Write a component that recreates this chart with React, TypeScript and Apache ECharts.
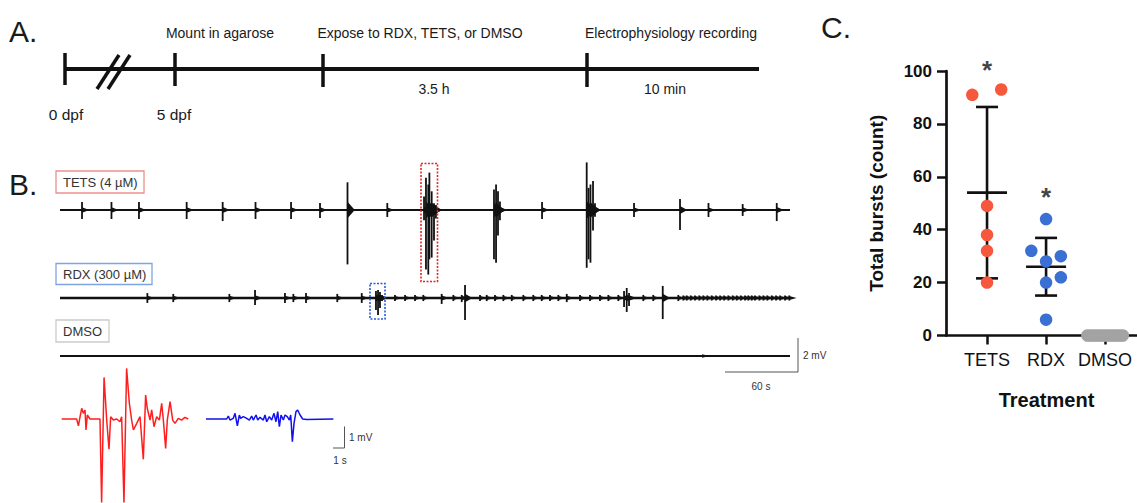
import { useEffect, useRef } from "react";
import * as echarts from "echarts";

const FONT = '"Liberation Sans", Arial, Helvetica, sans-serif';

// ---------- Panel C data ----------
const categories = ["TETS", "RDX", "DMSO"];
const tetsBursts = [91, 93, 49, 38, 32, 20];
const tetsJitter = [-0.25, 0.24, 0, 0, 0, 0];
const rdxBursts = [44, 32, 28, 30, 20, 22, 6];
const rdxJitter = [0, -0.25, 0, 0.25, 0, 0.25, 0];
const dmsoBursts = [0, 0, 0, 0, 0, 0, 0, 0, 0, 0, 0, 0, 0];
const dmsoJitter = [-0.3, -0.25, -0.2, -0.15, -0.1, -0.05, 0, 0.05, 0.1, 0.15, 0.2, 0.25, 0.3];
const groupMeans = [54, 26, 0];
const groupSD = [32.4, 10.9, 0];
const significance = ["*", "*", ""];
const significanceY = [100.5, 52.5, 0];

// ---------- Panel A text ----------
const timelineEvents = ["Mount in agarose", "Expose to RDX, TETS, or DMSO", "Electrophysiology recording"];
const timelineDurations = ["3.5 h", "10 min"];
const timelineDays = ["0 dpf", "5 dpf"];

// ---------- Panel B traces: [time (s), up (mV), down (mV)] ----------
const tetsSpikes = [
  [18.1, 0.47, 0.53], [42.3, 0.47, 0.53], [64.9, 0.47, 0.53], [104.1, 0.47, 0.53],
  [133.7, 0.47, 0.65], [160.7, 0.47, 0.53], [189.9, 0.47, 0.53], [213.7, 0.41, 0.47],
  [236.3, 1.63, 3.2], [269.0, 0.41, 0.41],
  [299.2, 0.8, 0.6], [300.8, 1.9, 3.5], [302.7, 1.5, 3.8], [303.6, 2.2, 2.9],
  [305.5, 1.1, 2.8], [307.4, 0.4, 1.8], [309.0, 0.3, 0.5],
  [356.7, 1.2, 2.9], [358.4, 1.5, 3.1], [360.0, 1.1, 1.5], [361.6, 0.5, 0.6],
  [396.2, 0.47, 0.53],
  [432.9, 2.8, 3.4], [434.4, 1.3, 2.9], [436.0, 1.5, 3.1], [438.1, 1.7, 1.2], [439.7, 0.4, 0.4],
  [471.8, 0.41, 0.41], [509.6, 0.65, 1.18], [533.0, 0.41, 0.41], [561.1, 0.35, 0.35],
  [589.1, 0.41, 0.65],
];
const rdxSpikes = [
  [71.8, 0.29, 0.29], [93.1, 0.24, 0.24], [139.2, 0.24, 0.24], [160.3, 0.47, 0.41],
  [184.9, 0.29, 0.29], [191.8, 0.24, 0.24], [202.2, 0.29, 0.29], [227.9, 0.24, 0.24],
  [248.0, 0.29, 0.29],
  [259.7, 0.41, 0.71], [261.4, 0.47, 1.0], [263.0, 0.35, 0.59], [264.7, 0.18, 0.18],
  [275.3, 0.18, 0.18], [283.6, 0.18, 0.18], [291.8, 0.18, 0.18], [298.6, 0.18, 0.18],
  [313.7, 0.24, 0.35], [323.3, 0.18, 0.18], [330.2, 0.18, 0.24], [332.9, 0.76, 1.29],
  [345.2, 0.18, 0.18], [350.7, 0.18, 0.18], [357.5, 0.18, 0.18], [364.4, 0.18, 0.18],
  [371.3, 0.18, 0.18], [380.8, 0.18, 0.18], [389.0, 0.18, 0.18], [395.9, 0.18, 0.18],
  [402.7, 0.18, 0.18], [409.6, 0.18, 0.18], [416.5, 0.24, 0.24], [427.4, 0.18, 0.18],
  [435.6, 0.18, 0.18], [443.8, 0.18, 0.18], [450.7, 0.18, 0.18], [458.9, 0.18, 0.18],
  [463.6, 0.41, 0.53], [465.8, 0.59, 0.82], [467.7, 0.29, 0.47],
  [479.4, 0.18, 0.18], [487.6, 0.18, 0.18], [495.4, 0.71, 1.24], [508.2, 0.18, 0.18],
  [512.3, 0.15, 0.15], [515.1, 0.15, 0.15], [518.4, 0.15, 0.15], [521.9, 0.15, 0.15],
  [525.4, 0.15, 0.15], [528.7, 0.15, 0.15], [532.0, 0.15, 0.15], [535.6, 0.15, 0.15],
  [539.2, 0.15, 0.15], [542.5, 0.15, 0.15], [545.8, 0.15, 0.15], [549.3, 0.15, 0.15],
  [552.9, 0.15, 0.15], [556.2, 0.15, 0.15], [559.5, 0.15, 0.15], [563.0, 0.15, 0.15],
  [565.7, 0.15, 0.15], [568.5, 0.15, 0.15], [571.2, 0.15, 0.15], [574.8, 0.15, 0.15],
  [578.1, 0.15, 0.15], [581.3, 0.15, 0.15], [585.0, 0.15, 0.15], [588.5, 0.15, 0.15],
  [591.8, 0.15, 0.15], [595.9, 0.15, 0.15], [599.4, 0.15, 0.15],
];
const dmsoSpikes = [[527.7, 0.06, 0.06]];
const recordingSeconds = 600;

// ---------- Panel B insets: time (s), voltage (mV) ----------
const redTime = [0, 1.36, 1.52, 1.67, 1.82, 1.97, 2.12, 2.21, 2.33, 2.57, 3.48, 3.63, 3.85, 4.09, 4.3, 4.45, 4.7, 5.0, 5.3, 5.45, 5.66, 5.9, 6.15, 6.36, 6.52, 6.82, 7.12, 7.42, 7.63, 7.78, 8.03, 8.18, 8.39, 8.63, 8.88, 9.09, 9.24, 9.45, 9.6, 9.85, 10.09, 10.3, 10.6, 10.9, 11.2, 11.5];
const redMv = [0, 0, -0.33, 0.11, 0.51, 0.27, 0.43, -0.52, 0.19, 0, 0, -3.98, 1.98, -0.05, -1.44, 0.11, -0.05, 0, -0.13, 0.11, -3.98, 2.41, 0.75, -0.05, -0.52, -0.21, 0.11, -1.92, 1.14, 0.51, -0.05, 0.43, -0.37, 0.11, -0.05, 0.75, -0.05, -1.4, -0.05, 0.83, -0.05, -0.21, 0.03, -0.05, 0.08, 0];
const blueTime = [0, 1.88, 2.03, 2.18, 2.48, 2.64, 2.85, 3.03, 3.15, 3.39, 3.7, 3.94, 4.15, 4.3, 4.55, 4.7, 4.91, 5.21, 5.36, 5.52, 5.76, 5.97, 6.18, 6.36, 6.52, 6.67, 6.82, 7.03, 7.18, 7.39, 7.58, 7.7, 7.85, 8.0, 8.18, 8.33, 8.55, 8.79, 9.15, 11.58];
const blueMv = [0, 0, 0.14, -0.05, 0.03, 0.27, -0.33, 0.19, 0.03, 0.11, 0.03, -0.05, 0.14, -0.05, 0.19, -0.05, 0.08, -0.05, 0.19, -0.13, 0.11, -0.05, 0.27, -0.13, 0.35, -0.37, 0.19, -0.05, 0.19, 0.11, -0.05, 0.19, -1.08, -0.21, 0.35, 0.43, 0.19, 0, -0.02, 0];

const INK = "#111111";

function spikeRender(color: string) {
  return (params: any, api: any) => {
    const t = api.value(0);
    const up = api.value(1);
    const dn = api.value(2);
    const top = api.coord([t, up]);
    const bot = api.coord([t, -dn]);
    const w = 0.1 + 0.12 * Math.max(up, dn);
    const p1 = api.coord([t, w]);
    const p2 = api.coord([t + 6, 0]);
    const p3 = api.coord([t, -w]);
    return {
      type: "group",
      children: [
        { type: "line", shape: { x1: top[0], y1: top[1], x2: bot[0], y2: bot[1] }, style: { stroke: color, lineWidth: 1.8 } },
        { type: "polygon", shape: { points: [p1, p2, p3] }, style: { fill: color } },
      ],
    };
  };
}

function errorBarRender(params: any, api: any) {
  const x = api.value(0);
  const m = api.value(1);
  const sd = api.value(2);
  if (!sd) return null;
  const c = api.coord([x, m]);
  const hi = api.coord([x, m + sd]);
  const lo = api.coord([x, m - sd]);
  const halfMean = 20;
  const halfCap = 11;
  const st = { stroke: INK, lineWidth: 2.6 };
  return {
    type: "group",
    children: [
      { type: "line", shape: { x1: hi[0], y1: hi[1], x2: lo[0], y2: lo[1] }, style: st },
      { type: "line", shape: { x1: hi[0] - halfCap, y1: hi[1], x2: hi[0] + halfCap, y2: hi[1] }, style: st },
      { type: "line", shape: { x1: lo[0] - halfCap, y1: lo[1], x2: lo[0] + halfCap, y2: lo[1] }, style: st },
      { type: "line", shape: { x1: c[0] - halfMean, y1: c[1], x2: c[0] + halfMean, y2: c[1] }, style: st },
    ],
  };
}

function txt(text: string, x: number, y: number, size: number, align = "left", extra: any = {}) {
  return {
    type: "text",
    x,
    y,
    style: { text, fill: extra.fill || "#1a1a1a", fontSize: size, fontFamily: FONT, align, verticalAlign: "middle", fontWeight: extra.fontWeight || "normal" },
  };
}

function seg(x1: number, y1: number, x2: number, y2: number, width: number, color = INK) {
  return { type: "line", shape: { x1, y1, x2, y2 }, style: { stroke: color, lineWidth: width } };
}

export default function App() {
  const ref = useRef<HTMLDivElement>(null);
  useEffect(() => {
    if (!ref.current) return;
    const chart = echarts.init(ref.current, undefined, { renderer: "svg" });

    const traceGrid = (top: number, height: number) => ({ left: 60, top, width: 730, height, outerBoundsMode: "none" });
    const hiddenX = (gi: number, max: number) => ({ gridIndex: gi, type: "value", min: 0, max, show: false });
    const hiddenY = (gi: number, min: number, max: number) => ({ gridIndex: gi, type: "value", min, max, show: false });

    const baseline = (i: number, width: number) => ({
      type: "line", xAxisIndex: i, yAxisIndex: i, data: [[0, 0], [recordingSeconds, 0]],
      symbol: "none", lineStyle: { color: INK, width }, silent: true,
    });
    const spikes = (i: number, data: number[][]) => ({
      type: "custom", xAxisIndex: i, yAxisIndex: i, data, renderItem: spikeRender(INK),
      encode: { x: 0, y: 1 }, silent: true,
    });

    const timelineY = 69;
    const graphics: any[] = [
      txt("A.", 9, 31, 30),
      txt("B.", 9, 184, 30),
      txt("C.", 821, 27, 30),
      // timeline
      seg(65, timelineY, 759, timelineY, 4),
      seg(65, 53, 65, 85, 3.5),
      seg(175, 53, 175, 86, 3.5),
      seg(323, 54, 323, 87, 3.5),
      seg(587, 53, 587, 87, 3.5),
      seg(97, 89, 119, 55, 3.5),
      seg(108, 89, 130, 55, 3.5),
      txt(timelineEvents[0], 220, 33, 14, "center"),
      txt(timelineEvents[1], 420, 33, 14, "center"),
      txt(timelineEvents[2], 671, 33, 14, "center"),
      txt(timelineDurations[0], 434, 89, 14, "center"),
      txt(timelineDurations[1], 665, 89, 14, "center"),
      txt(timelineDays[0], 66, 114, 15.5, "center"),
      txt(timelineDays[1], 174, 114, 15.5, "center"),
      // trace label boxes
      { type: "rect", shape: { x: 56, y: 171, width: 88, height: 22 }, style: { fill: "#fff", stroke: "#EE8E8E", lineWidth: 1.3 } },
      txt("TETS (4 µM)", 63, 182.5, 13, "left", { fill: "#333" }),
      { type: "rect", shape: { x: 56, y: 263.5, width: 96, height: 21 }, style: { fill: "#fff", stroke: "#7FA4E4", lineWidth: 1.3 } },
      txt("RDX (300 µM)", 63, 274.5, 13, "left", { fill: "#333" }),
      { type: "rect", shape: { x: 56, y: 320, width: 53, height: 22 }, style: { fill: "#fff", stroke: "#CCCCCC", lineWidth: 1.3 } },
      txt("DMSO", 63, 331.5, 13, "left", { fill: "#333" }),
      // dotted highlight boxes
      { type: "rect", shape: { x: 421, y: 163.5, width: 16.5, height: 118 }, style: { fill: "none", stroke: "#E32626", lineWidth: 1.6, lineDash: [2, 1.5] }, z: 10 },
      { type: "rect", shape: { x: 370, y: 283.5, width: 15, height: 35.5 }, style: { fill: "none", stroke: "#2A5BDB", lineWidth: 1.6, lineDash: [2, 1.5] }, z: 10 },
      // scale bars
      { type: "polyline", shape: { points: [[725, 372], [798, 372], [798, 338]] }, style: { fill: "none", stroke: "#555", lineWidth: 1 } },
      txt("2 mV", 803, 355, 10, "left", { fill: "#333" }),
      txt("60 s", 761, 386, 10, "center", { fill: "#333" }),
      { type: "polyline", shape: { points: [[333, 448], [344.5, 448], [344.5, 426.5]] }, style: { fill: "none", stroke: "#555", lineWidth: 1 } },
      txt("1 mV", 349, 437, 10, "left", { fill: "#333" }),
      txt("1 s", 340, 460, 10, "center", { fill: "#333" }),
    ];

    const option: any = {
      animation: false,
      backgroundColor: "#ffffff",
      textStyle: { fontFamily: FONT },
      grid: [
        traceGrid(159, 119),
        traceGrid(264, 68),
        traceGrid(339, 34),
        { left: 61.7, top: 366.5, width: 126.5, height: 136.5, outerBoundsMode: "none" },
        { left: 206, top: 377, width: 127.4, height: 84, outerBoundsMode: "none" },
        { left: 946, top: 71, width: 191, height: 264.5, outerBoundsMode: "none" },
      ],
      xAxis: [
        hiddenX(0, recordingSeconds),
        hiddenX(1, recordingSeconds),
        hiddenX(2, recordingSeconds),
        hiddenX(3, 11.5),
        hiddenX(4, 11.58),
        {
          gridIndex: 5, type: "value", min: -0.695, max: 2.54,
          axisLine: { show: true, onZero: false, lineStyle: { color: INK, width: 2.7 } },
          axisTick: { show: true, customValues: [0, 1, 2], length: 9, lineStyle: { color: INK, width: 2.5 } },
          axisLabel: { customValues: [0, 1, 2], formatter: (v: number) => categories[Math.round(v)] ?? "", fontSize: 18, color: INK, margin: 15, fontFamily: FONT },
          splitLine: { show: false },
          name: "Treatment", nameLocation: "middle", nameGap: 54,
          nameTextStyle: { fontSize: 20, fontWeight: "bold", color: INK, fontFamily: FONT, padding: [0, 0, 0, 10] },
        },
      ],
      yAxis: [
        hiddenY(0, -4, 3),
        hiddenY(1, -2, 2),
        hiddenY(2, -1, 1),
        hiddenY(3, -4, 2.5),
        hiddenY(4, -2, 2),
        {
          gridIndex: 5, type: "value", min: 0, max: 100, interval: 20,
          axisLine: { show: true, onZero: false, lineStyle: { color: INK, width: 2.7 } },
          axisTick: { show: true, length: 9, lineStyle: { color: INK, width: 2.5 } },
          axisLabel: { fontSize: 17, fontWeight: "bold", color: INK, margin: 14, fontFamily: FONT },
          splitLine: { show: false },
          name: "Total bursts (count)", nameLocation: "middle", nameGap: 60,
          nameTextStyle: { fontSize: 19, fontWeight: "bold", color: INK, fontFamily: FONT },
        },
      ],
      series: [
        baseline(0, 2),
        spikes(0, tetsSpikes),
        baseline(1, 2.6),
        spikes(1, rdxSpikes),
        baseline(2, 2),
        spikes(2, dmsoSpikes),
        {
          type: "line", xAxisIndex: 3, yAxisIndex: 3, data: redTime.map((t, i) => [t, redMv[i]]),
          symbol: "none", lineStyle: { color: "#FF1E1E", width: 1.5 }, clip: false, silent: true,
        },
        {
          type: "line", xAxisIndex: 4, yAxisIndex: 4, data: blueTime.map((t, i) => [t, blueMv[i]]),
          symbol: "none", lineStyle: { color: "#1010F0", width: 1.5 }, clip: false, silent: true,
        },
        {
          type: "custom", xAxisIndex: 5, yAxisIndex: 5, z: 3,
          data: groupMeans.map((m, i) => [i, m, groupSD[i]]),
          renderItem: errorBarRender, encode: { x: 0, y: 1 }, silent: true,
        },
        {
          type: "scatter", xAxisIndex: 5, yAxisIndex: 5, z: 5, symbolSize: 12.5,
          data: tetsBursts.map((v, i) => [0 + tetsJitter[i], v]),
          itemStyle: { color: "#F5583C", opacity: 1 }, clip: false,
        },
        {
          type: "scatter", xAxisIndex: 5, yAxisIndex: 5, z: 5, symbolSize: 12.5,
          data: rdxBursts.map((v, i) => [1 + rdxJitter[i], v]),
          itemStyle: { color: "#3A6FD3", opacity: 1 }, clip: false,
        },
        {
          type: "scatter", xAxisIndex: 5, yAxisIndex: 5, z: 5, symbolSize: 12.5,
          data: dmsoBursts.map((v, i) => [2 + dmsoJitter[i], v]),
          itemStyle: { color: "#A3A3A3", opacity: 1 }, clip: false,
        },
        {
          type: "scatter", xAxisIndex: 5, yAxisIndex: 5, z: 6, symbolSize: 1, clip: false,
          data: significance.map((s, i) => (s ? [i, significanceY[i]] : null)).filter(Boolean),
          itemStyle: { color: "rgba(0,0,0,0)" },
          label: { show: true, position: "inside", formatter: "*", fontSize: 26, fontWeight: "bold", color: INK, fontFamily: FONT },
        },
      ],
      graphic: { elements: graphics },
    };

    chart.setOption(option);
    return () => chart.dispose();
  }, []);

  return (
    <div
      ref={ref}
      style={{ position: "fixed", left: 0, top: 0, width: 1137, height: 503, background: "#fff" }}
    />
  );
}
